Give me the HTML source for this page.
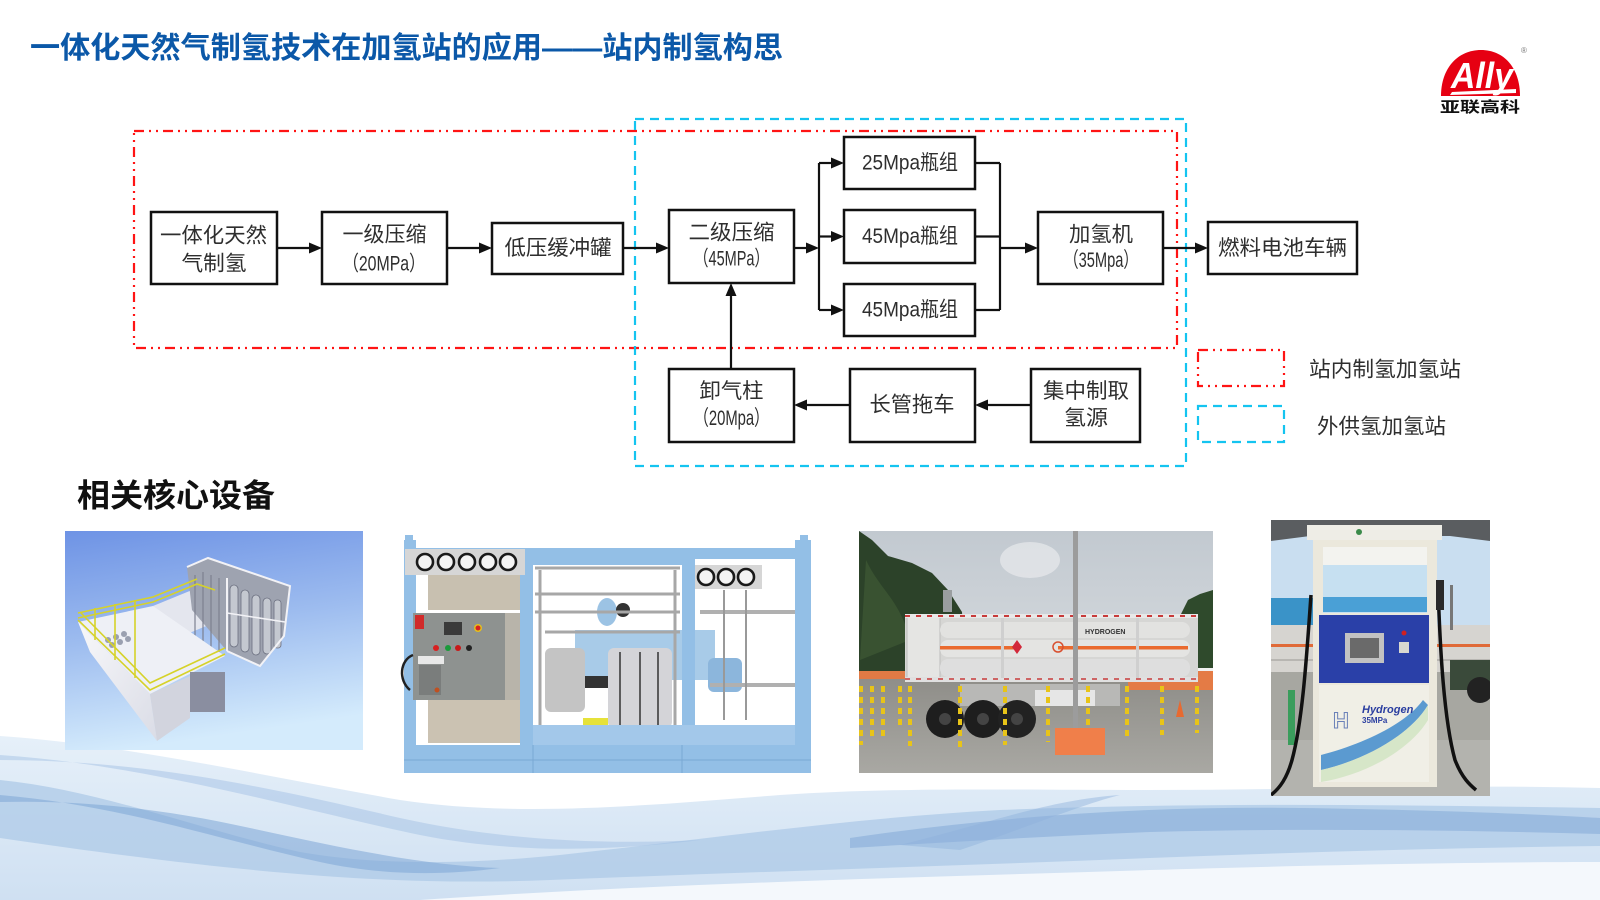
<!DOCTYPE html>
<html><head><meta charset="utf-8">
<style>
html,body{margin:0;padding:0;background:#fff;width:1600px;height:900px;overflow:hidden;}
svg{display:block;}
text{font-family:"Liberation Sans","Noto Sans CJK SC",sans-serif;}
</style></head><body>
<svg width="1600" height="900" viewBox="0 0 1600 900" xmlns="http://www.w3.org/2000/svg">
<defs>
  <linearGradient id="g1" x1="0" y1="0" x2="0.2" y2="1">
    <stop offset="0" stop-color="#6e93e5"/><stop offset="0.5" stop-color="#9dbcef"/><stop offset="1" stop-color="#d4ebfc"/>
  </linearGradient>
  <linearGradient id="sky3" x1="0" y1="0" x2="0" y2="1">
    <stop offset="0" stop-color="#c2c9d0"/><stop offset="1" stop-color="#e2e5e7"/>
  </linearGradient>
  <linearGradient id="gr3" x1="0" y1="0" x2="0" y2="1">
    <stop offset="0" stop-color="#8e8d88"/><stop offset="1" stop-color="#a9a8a3"/>
  </linearGradient>
  <linearGradient id="wl" x1="0" y1="0" x2="0" y2="1">
    <stop offset="0" stop-color="#e6f0f9"/><stop offset="1" stop-color="#cfe0f2"/>
  </linearGradient>
  <linearGradient id="box1" x1="0" y1="0" x2="1" y2="1">
    <stop offset="0" stop-color="#f8f8fa"/><stop offset="1" stop-color="#dadce6"/>
  </linearGradient>
  <clipPath id="c3"><rect x="859" y="531" width="354" height="242"/></clipPath>
  <clipPath id="c4"><rect x="1271" y="520" width="219" height="276"/></clipPath>
</defs>

<!-- background waves -->
<path d="M0,736 C120,744 260,775 400,800 C520,818 650,805 780,795 C900,787 1000,790 1150,790 C1300,790 1450,784 1600,788 L1600,900 L0,900 Z" fill="url(#wl)"/>
<path d="M0,780 C100,790 200,830 300,852 C380,866 470,864 560,855 C700,840 850,818 1000,810 C1200,802 1400,805 1600,808 L1600,846 C1450,848 1300,852 1150,858 C950,866 750,872 550,880 C400,886 250,875 0,838 Z" fill="#aec9e7" opacity="0.75"/>
<path d="M0,795 C120,805 220,840 320,862 C380,875 440,876 500,868 C430,866 350,850 250,828 C160,808 80,800 0,802 Z" fill="#7ea6d6" opacity="0.55"/>
<path d="M850,838 C1000,816 1150,806 1300,808 C1450,810 1550,815 1600,818 L1600,834 C1450,830 1300,828 1150,832 C1050,836 950,842 850,848 Z" fill="#7ea6d6" opacity="0.5"/>
<path d="M0,755 C150,765 300,810 420,835 C520,855 620,850 700,840 C600,845 500,840 400,818 C280,790 150,760 0,760 Z" fill="#9dbde3" opacity="0.45"/>
<path d="M900,845 C1000,820 1050,800 1120,795 C1080,805 1020,830 960,850 Z" fill="#8fb2dc" opacity="0.45"/>
<path d="M420,900 C650,884 900,878 1150,870 C1350,864 1500,862 1600,862 L1600,900 Z" fill="#f4f8fc"/>

<!-- Title -->
<text x="30" y="58" font-size="30" font-weight="700" fill="#0b58a8" textLength="753" lengthAdjust="spacingAndGlyphs">一体化天然气制氢技术在加氢站的应用——站内制氢构思</text>

<!-- Logo -->
<path d="M1441,96 C1441,68 1458,50 1481,50 C1504,50 1520,68 1520,96 Z" fill="#e60012"/>
<text x="1482" y="88" font-size="36" font-weight="700" font-style="italic" fill="#fff" text-anchor="middle" textLength="62" lengthAdjust="spacingAndGlyphs">Ally</text>
<path d="M1452,92 L1516,89 L1516,93 L1450,95 Z" fill="#fff"/>
<text x="1480" y="112" font-size="15" font-weight="700" fill="#111" text-anchor="middle" textLength="80" lengthAdjust="spacingAndGlyphs">亚联高科</text>
<text x="1524" y="53" font-size="8" fill="#777" text-anchor="middle">®</text>

<!-- Dashed region boxes -->
<rect x="134" y="131" width="1043" height="217" fill="none" stroke="#ff1414" stroke-width="2.2" stroke-dasharray="10 5 2 5 2 5"/>
<rect x="635" y="119" width="551" height="347" fill="none" stroke="#14c4f0" stroke-width="2.2" stroke-dasharray="9 6"/>

<!-- Nodes -->
<g fill="#fff" stroke="#111" stroke-width="2.5">
  <rect x="151" y="212" width="126" height="72"/>
  <rect x="322" y="212" width="125" height="72"/>
  <rect x="492" y="223" width="131" height="51"/>
  <rect x="669" y="210" width="125" height="73"/>
  <rect x="844" y="137" width="131" height="52"/>
  <rect x="844" y="210" width="131" height="53"/>
  <rect x="844" y="284" width="131" height="52"/>
  <rect x="1038" y="212" width="125" height="72"/>
  <rect x="1208" y="222" width="149" height="52"/>
  <rect x="669" y="369" width="125" height="73"/>
  <rect x="850" y="369" width="125" height="73"/>
  <rect x="1031" y="369" width="109" height="73"/>
</g>

<!-- Connectors -->
<g stroke="#111" stroke-width="2.2" fill="none">
  <line x1="277" y1="248" x2="310" y2="248"/>
  <line x1="447" y1="248" x2="480" y2="248"/>
  <line x1="623" y1="248" x2="657" y2="248"/>
  <line x1="794" y1="248" x2="807" y2="248"/>
  <line x1="819" y1="163" x2="819" y2="310"/>
  <line x1="819" y1="163" x2="832" y2="163"/>
  <line x1="819" y1="236.5" x2="832" y2="236.5"/>
  <line x1="819" y1="310" x2="832" y2="310"/>
  <line x1="975" y1="163" x2="1000" y2="163"/>
  <line x1="975" y1="236.5" x2="1000" y2="236.5"/>
  <line x1="975" y1="310" x2="1000" y2="310"/>
  <line x1="1000" y1="163" x2="1000" y2="310"/>
  <line x1="1000" y1="248" x2="1026" y2="248"/>
  <line x1="1163" y1="248" x2="1196" y2="248"/>
  <line x1="731" y1="369" x2="731" y2="295"/>
  <line x1="850" y1="405" x2="806" y2="405"/>
  <line x1="1031" y1="405" x2="987" y2="405"/>
</g>
<g fill="#111">
  <polygon points="322,248 309,242.5 309,253.5"/>
  <polygon points="492,248 479,242.5 479,253.5"/>
  <polygon points="669,248 656,242.5 656,253.5"/>
  <polygon points="819,248 806,242.5 806,253.5"/>
  <polygon points="844,163 831,157.5 831,168.5"/>
  <polygon points="844,236.5 831,231 831,242"/>
  <polygon points="844,310 831,304.5 831,315.5"/>
  <polygon points="1038,248 1025,242.5 1025,253.5"/>
  <polygon points="1208,248 1195,242.5 1195,253.5"/>
  <polygon points="731,283 725.5,296 736.5,296"/>
  <polygon points="794,405 807,399.5 807,410.5"/>
  <polygon points="975,405 988,399.5 988,410.5"/>
</g>

<!-- Node labels -->
<g font-size="21" fill="#2e2e2e" text-anchor="middle" dominant-baseline="central">
  <text x="213.5" y="236" textLength="107" lengthAdjust="spacingAndGlyphs">一体化天然</text>
  <text x="214" y="264" textLength="65" lengthAdjust="spacingAndGlyphs">气制氢</text>
  <text x="384.5" y="235" textLength="84" lengthAdjust="spacingAndGlyphs">一级压缩</text>
  <text x="384" y="264" textLength="82" lengthAdjust="spacingAndGlyphs">（20MPa）</text>
  <text x="558" y="248.5" textLength="107" lengthAdjust="spacingAndGlyphs">低压缓冲罐</text>
  <text x="731.5" y="233" textLength="86" lengthAdjust="spacingAndGlyphs">二级压缩</text>
  <text x="731.5" y="259" textLength="75" lengthAdjust="spacingAndGlyphs">（45MPa）</text>
  <text x="910" y="163" textLength="96" lengthAdjust="spacingAndGlyphs">25Mpa瓶组</text>
  <text x="910" y="236.5" textLength="96" lengthAdjust="spacingAndGlyphs">45Mpa瓶组</text>
  <text x="910" y="310" textLength="96" lengthAdjust="spacingAndGlyphs">45Mpa瓶组</text>
  <text x="1101" y="235" textLength="64" lengthAdjust="spacingAndGlyphs">加氢机</text>
  <text x="1101" y="260.5" textLength="74" lengthAdjust="spacingAndGlyphs">（35Mpa）</text>
  <text x="1282.5" y="248.3" textLength="129" lengthAdjust="spacingAndGlyphs">燃料电池车辆</text>
  <text x="731.5" y="391.7" textLength="64" lengthAdjust="spacingAndGlyphs">卸气柱</text>
  <text x="731.5" y="418.3" textLength="75" lengthAdjust="spacingAndGlyphs">（20Mpa）</text>
  <text x="912" y="405" textLength="85" lengthAdjust="spacingAndGlyphs">长管拖车</text>
  <text x="1086" y="391.7" textLength="86" lengthAdjust="spacingAndGlyphs">集中制取</text>
  <text x="1086" y="418.3" textLength="44" lengthAdjust="spacingAndGlyphs">氢源</text>
</g>

<!-- Legend -->
<rect x="1198" y="350" width="86" height="36" fill="none" stroke="#ff1414" stroke-width="2.2" stroke-dasharray="10 5 2 5 2 5"/>
<rect x="1198" y="406" width="86" height="36" fill="none" stroke="#14c4f0" stroke-width="2.2" stroke-dasharray="9 6"/>
<g font-size="21" fill="#2e2e2e" dominant-baseline="central">
  <text x="1309" y="370" textLength="152" lengthAdjust="spacingAndGlyphs">站内制氢加氢站</text>
  <text x="1317" y="427" textLength="129" lengthAdjust="spacingAndGlyphs">外供氢加氢站</text>
</g>

<!-- Section heading -->
<text x="77" y="506.5" font-size="32" font-weight="700" fill="#111" textLength="198" lengthAdjust="spacingAndGlyphs">相关核心设备</text>

<!-- Image 1: 3D render -->
<rect x="65" y="531" width="298" height="219" fill="url(#g1)"/>
<g>
  <polygon points="153,606 197,588 218,598 216,622 182,636" fill="#e4e6ee"/>
  <polygon points="187,567 208,558 290,586 284,636 260,666 227,651 192,610" fill="#9ea3b0"/>
  <g fill="#c4c8d0" stroke="#6c7080" stroke-width="0.8">
    <rect x="230" y="585" width="8" height="62" rx="4"/>
    <rect x="241" y="590" width="8" height="62" rx="4"/>
    <rect x="252" y="595" width="8" height="60" rx="4"/>
    <rect x="263" y="598" width="8" height="56" rx="4"/>
    <rect x="274" y="600" width="7" height="48" rx="3"/>
  </g>
  <polyline points="187,567 208,558 290,586 284,636 260,666 227,651" fill="none" stroke="#f2f2f6" stroke-width="2"/>
  <line x1="227" y1="578" x2="227" y2="651" stroke="#f2f2f6" stroke-width="2"/>
  <line x1="227" y1="613" x2="285" y2="622" stroke="#f2f2f6" stroke-width="1.5"/>
  <g stroke="#7c8090" stroke-width="1.2">
    <line x1="195" y1="575" x2="195" y2="640"/><line x1="203" y1="572" x2="203" y2="645"/>
    <line x1="211" y1="575" x2="211" y2="650"/><line x1="219" y1="578" x2="219" y2="652"/>
  </g>
  <polygon points="78,622 153,606 225,656 150,694" fill="#eef0f6"/>
  <polygon points="78,622 150,694 157,741 90,652" fill="url(#box1)"/>
  <polygon points="150,694 190,676 190,718 157,741" fill="#d2d4de"/>
  <rect x="190" y="672" width="35" height="40" fill="#8a8ea0"/>
  <g fill="#9aa0b0"><circle cx="108" cy="640" r="3"/><circle cx="116" cy="637" r="3"/><circle cx="124" cy="634" r="3"/><circle cx="112" cy="645" r="3"/><circle cx="120" cy="642" r="3"/><circle cx="128" cy="639" r="3"/></g>
  <g fill="none" stroke="#d6d22a" stroke-width="1.6">
    <polyline points="78,618 153,602 197,584 215,590"/>
    <polyline points="78,613 153,597 197,579"/>
    <polyline points="78,620 150,690 225,654"/>
    <polyline points="80,612 150,683 225,648"/>
    <line x1="95" y1="608" x2="95" y2="640"/><line x1="115" y1="604" x2="115" y2="660"/><line x1="135" y1="600" x2="135" y2="678"/>
  </g>
</g>

<!-- Image 2: compressor skid -->
<g>
  <rect x="428" y="575" width="92" height="35" fill="#c8c0b0"/>
  <rect x="428" y="700" width="92" height="43" fill="#cbc2b2"/>
  <rect x="500" y="613" width="20" height="87" fill="#b8b4aa"/>
  <rect x="575" y="630" width="140" height="50" fill="#a8cbe8"/>
  <ellipse cx="607" cy="612" rx="10" ry="14" fill="#9cc3e4"/>
  <rect x="545" y="648" width="40" height="64" rx="6" fill="#c4c4c4"/>
  <rect x="585" y="676" width="26" height="12" fill="#333"/>
  <rect x="608" y="648" width="64" height="80" rx="6" fill="#d4d4d8"/>
  <g stroke="#333" stroke-width="1.5"><line x1="620" y1="652" x2="620" y2="726"/><line x1="640" y1="652" x2="640" y2="726"/><line x1="658" y1="652" x2="658" y2="726"/></g>
  <rect x="583" y="718" width="25" height="10" fill="#e6e23a"/>
  <circle cx="623" cy="610" r="7" fill="#333"/>
  <g stroke="#a7a7a7" stroke-width="3" fill="none">
    <line x1="535" y1="568" x2="680" y2="568"/>
    <line x1="535" y1="594" x2="680" y2="594"/>
    <line x1="535" y1="612" x2="680" y2="612"/>
    <line x1="545" y1="632" x2="680" y2="632"/>
    <line x1="540" y1="570" x2="540" y2="730"/>
    <line x1="675" y1="570" x2="675" y2="730"/>
  </g>
  <rect x="700" y="610" width="95" height="4" fill="#b0b0b0"/>
  <rect x="708" y="658" width="34" height="34" rx="6" fill="#8cb6dc"/>
  <rect x="710" y="683" width="85" height="4" fill="#b0b0b0"/>
  <rect x="723" y="590" width="2" height="130" fill="#999"/>
  <rect x="745" y="590" width="2" height="130" fill="#999"/>
  <g fill="#93bfe6">
    <rect x="404" y="540" width="12" height="233"/>
    <rect x="795" y="540" width="16" height="233"/>
    <rect x="404" y="548" width="407" height="11"/>
    <rect x="520" y="555" width="13" height="218"/>
    <rect x="682" y="555" width="13" height="218"/>
    <rect x="533" y="559" width="149" height="6"/>
    <rect x="404" y="745" width="407" height="28"/>
    <rect x="533" y="725" width="262" height="20" fill="#a3c8ea"/>
    <rect x="405" y="535" width="8" height="8"/>
    <rect x="800" y="535" width="8" height="8"/>
  </g>
  <g stroke="#7aa8d4" stroke-width="1"><line x1="404" y1="760" x2="811" y2="760"/><line x1="533" y1="745" x2="533" y2="773"/><line x1="682" y1="745" x2="682" y2="773"/></g>
  <rect x="405" y="549" width="120" height="26" fill="#d6d6d6"/>
  <g fill="#f4f4f4" stroke="#1a1a1a" stroke-width="2.6">
    <circle cx="425" cy="562" r="8"/><circle cx="446" cy="562" r="8"/><circle cx="467" cy="562" r="8"/><circle cx="488" cy="562" r="8"/><circle cx="508" cy="562" r="8"/>
  </g>
  <rect x="695" y="565" width="67" height="24" fill="#d6d6d6"/>
  <g fill="#f4f4f4" stroke="#1a1a1a" stroke-width="2.6">
    <circle cx="706" cy="577" r="8"/><circle cx="726" cy="577" r="8"/><circle cx="746" cy="577" r="8"/>
  </g>
  <rect x="413" y="613" width="92" height="87" fill="#8e9290"/>
  <rect x="415" y="615" width="9" height="14" fill="#d12a2a"/>
  <rect x="444" y="622" width="18" height="13" fill="#3a3a3a"/>
  <circle cx="478" cy="628" r="4" fill="#e0c020"/><circle cx="478" cy="628" r="2.5" fill="#d82020"/>
  <circle cx="436" cy="648" r="3" fill="#d82020"/><circle cx="448" cy="648" r="3" fill="#1a9a3a"/><circle cx="458" cy="648" r="3" fill="#c81818"/><circle cx="469" cy="648" r="3" fill="#222"/>
  <rect x="418" y="656" width="26" height="8" fill="#e8e8e8"/>
  <rect x="419" y="665" width="22" height="30" fill="#7a7d7c"/>
  <circle cx="437" cy="690" r="2.5" fill="#c05020"/>
  <path d="M413,655 C400,660 398,680 410,690" stroke="#222" stroke-width="2.5" fill="none"/>
</g>

<!-- Image 3: tube trailer -->
<g clip-path="url(#c3)">
  <rect x="859" y="531" width="354" height="242" fill="url(#sky3)"/>
  <ellipse cx="1030" cy="560" rx="30" ry="18" fill="#e8eaec" opacity="0.7"/>
  <path d="M859,531 L872,540 L888,556 L912,563 L932,573 L948,590 L962,612 L966,675 L859,675 Z" fill="#2c4229"/>
  <path d="M866,560 C880,590 900,600 910,640 L860,660 Z" fill="#3e5a35" opacity="0.7"/>
  <rect x="943" y="590" width="9" height="22" fill="#9a9ea0"/>
  <path d="M1178,620 L1188,600 L1200,594 L1213,590 L1213,672 L1178,672 Z" fill="#2f4a2c"/>
  <rect x="859" y="676" width="354" height="97" fill="url(#gr3)"/>
  <rect x="859" y="671" width="48" height="8" fill="#e07a45"/>
  <rect x="1128" y="670" width="85" height="20" fill="#e47b45"/>
  <rect x="1128" y="668" width="85" height="3" fill="#f0f0f0"/>
  <rect x="905" y="614" width="293" height="68" fill="#d6d6d4"/>
  <rect x="907" y="617" width="33" height="62" fill="#e5e5e3" stroke="#bdbdbd" stroke-width="1"/>
  <rect x="940" y="622" width="250" height="16" rx="8" fill="#e2e2e0"/>
  <rect x="940" y="640" width="250" height="17" rx="8" fill="#e4e4e2"/>
  <rect x="940" y="659" width="250" height="18" rx="8" fill="#dedede"/>
  <rect x="940" y="646" width="248" height="3.5" fill="#ea6a2e"/>
  <rect x="1020" y="645" width="38" height="6" fill="#e4e4e2"/>
  <rect x="905" y="614" width="293" height="4" fill="#e8e8e8"/>
  <line x1="905" y1="616" x2="1198" y2="616" stroke="#c83a3a" stroke-width="2" stroke-dasharray="5 6"/>
  <rect x="905" y="677" width="293" height="5" fill="#e0e0e0"/>
  <line x1="905" y1="679" x2="1198" y2="679" stroke="#c83a3a" stroke-width="1.5" stroke-dasharray="5 6"/>
  <rect x="1001" y="618" width="3" height="60" fill="#cfcfcf"/>
  <rect x="1136" y="618" width="3" height="60" fill="#cfcfcf"/>
  <polygon points="1017,640 1022,647 1017,654 1012,647" fill="#d2283a"/>
  <circle cx="1058" cy="647" r="5" fill="none" stroke="#d85030" stroke-width="1.5"/>
  <text x="1085" y="634" font-size="7" font-weight="700" fill="#333">HYDROGEN</text>
  <rect x="960" y="684" width="160" height="22" fill="#b8b8b6"/>
  <rect x="1035" y="690" width="60" height="16" fill="#e6e6e6"/>
  <circle cx="945" cy="719" r="19" fill="#1e1e1e"/>
  <circle cx="983" cy="719" r="19" fill="#1e1e1e"/>
  <circle cx="1017" cy="719" r="19" fill="#222"/>
  <g fill="#444"><circle cx="945" cy="719" r="6"/><circle cx="983" cy="719" r="6"/><circle cx="1017" cy="719" r="6"/></g>
  <rect x="1073" y="531" width="5" height="199" fill="#9c9c9c"/>
  <rect x="1055" y="728" width="50" height="27" fill="#f07f4a"/>
  <g stroke-width="4" stroke-dasharray="6 5">
    <g stroke="#e8c418">
      <line x1="861" y1="686" x2="861" y2="745"/><line x1="872" y1="686" x2="872" y2="740"/><line x1="883" y1="686" x2="883" y2="738"/>
      <line x1="900" y1="686" x2="900" y2="730"/><line x1="910" y1="686" x2="910" y2="746"/><line x1="960" y1="686" x2="960" y2="748"/>
      <line x1="1005" y1="686" x2="1005" y2="745"/><line x1="1048" y1="686" x2="1048" y2="742"/><line x1="1088" y1="686" x2="1088" y2="728"/>
      <line x1="1127" y1="686" x2="1127" y2="737"/><line x1="1162" y1="686" x2="1162" y2="735"/><line x1="1197" y1="686" x2="1197" y2="733"/>
    </g>
  </g>
  <polygon points="1180,700 1184,717 1176,717" fill="#e86a30"/>
</g>

<!-- Image 4: dispenser -->
<g clip-path="url(#c4)">
  <rect x="1271" y="520" width="219" height="276" fill="#c9def0"/>
  <polygon points="1271,520 1490,520 1490,541 1450,536 1310,536 1271,541" fill="#5a5d60"/>
  <rect x="1271" y="598" width="42" height="27" fill="#3a93c8"/>
  <rect x="1271" y="625" width="219" height="47" fill="#d6d4d0"/>
  <rect x="1271" y="644" width="219" height="3" fill="#e06a38"/>
  <rect x="1271" y="659" width="219" height="2" fill="#b8b6b2"/>
  <rect x="1271" y="672" width="219" height="124" fill="#a7a7a1"/>
  <rect x="1271" y="740" width="219" height="56" fill="#b3b3ae"/>
  <rect x="1450" y="660" width="40" height="30" fill="#3a4a3a"/>
  <circle cx="1480" cy="690" r="13" fill="#222"/>
  <rect x="1450" y="585" width="3" height="45" fill="#777"/>
  <rect x="1288" y="690" width="7" height="55" fill="#3a9d5c"/>
  <rect x="1307" y="525" width="135" height="15" fill="#eeede6"/>
  <circle cx="1359" cy="532" r="3" fill="#3a8a4a"/>
  <rect x="1313" y="540" width="124" height="247" fill="#ebe8dc"/>
  <rect x="1323" y="547" width="104" height="66" fill="#c6e0f1"/>
  <rect x="1323" y="547" width="104" height="18" fill="#f3f3ef"/>
  <rect x="1323" y="597" width="104" height="15" fill="#4aa0d6"/>
  <rect x="1319" y="615" width="110" height="68" fill="#2a40a8"/>
  <rect x="1345" y="633" width="39" height="30" fill="#c2c2c2"/>
  <rect x="1350" y="638" width="29" height="20" fill="#6a6a6a"/>
  <rect x="1399" y="642" width="10" height="11" fill="#d8d8d0"/>
  <circle cx="1404" cy="633" r="2.5" fill="#d02020"/>
  <rect x="1319" y="685" width="110" height="97" fill="#f0efe6"/>
  <path d="M1321,755 C1360,745 1405,725 1423,700 L1428,705 C1410,735 1365,760 1321,770 Z" fill="#5b9ad0"/>
  <path d="M1321,770 C1365,760 1410,735 1428,705 L1428,720 C1410,750 1365,775 1321,782 Z" fill="#cfe3c0" opacity="0.8"/>
  <text x="1333" y="728" font-size="22" font-weight="700" fill="none" stroke="#6a80b8" stroke-width="1">H</text>
  <text x="1362" y="713" font-size="11" font-weight="700" font-style="italic" fill="#2a3ea0">Hydrogen</text>
  <text x="1362" y="723" font-size="8" font-weight="700" fill="#2a3ea0">35MPa</text>
  <path d="M1311,595 C1307,650 1303,720 1292,760 C1287,778 1280,788 1271,795" stroke="#111" stroke-width="3.5" fill="none"/>
  <path d="M1438,585 C1440,650 1444,720 1455,760 C1462,778 1470,785 1476,790" stroke="#111" stroke-width="3.5" fill="none"/>
  <rect x="1436" y="580" width="8" height="30" fill="#2a2a2a"/>
</g>

</svg>
</body></html>
